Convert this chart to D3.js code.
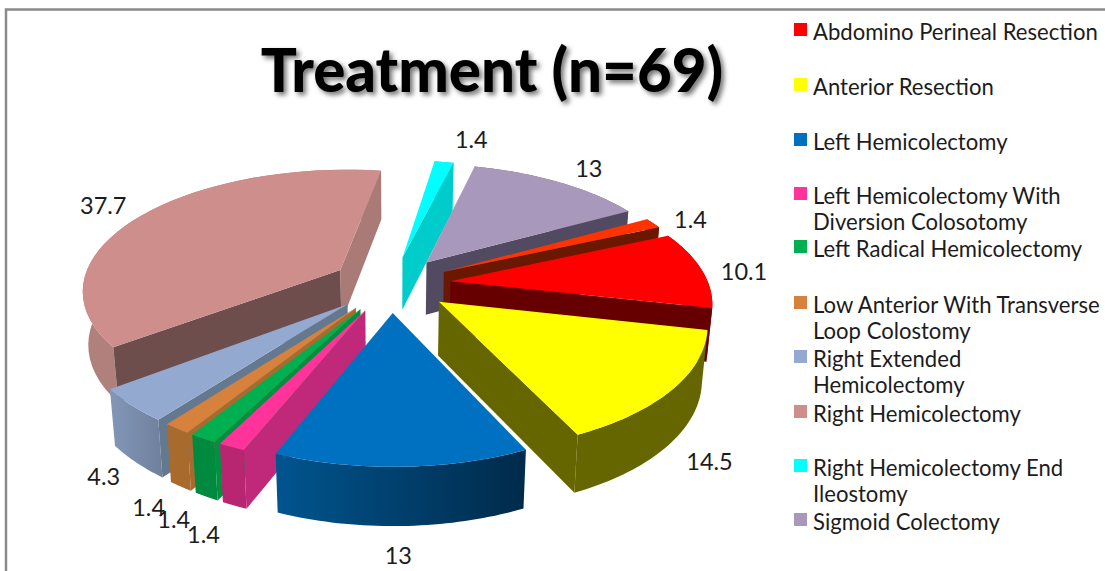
<!DOCTYPE html>
<html>
<head>
<meta charset="utf-8">
<script src="https://cdn.jsdelivr.net/npm/d3@7"></script>
<style>
    html, body { margin: 0; padding: 0; background: #fff; }
    svg { display: block; }
    text { font-family: Lato, sans-serif; fill: #1c1c1c; }
</style>
</head>
<body>
<svg id="chart" width="1105" height="571"></svg>
<script>
    // clockwise from the first slice, the last one has no legend row in the picture
    var categories = ['Abdomino Perineal Resection', 'Anterior Resection', 'Left Hemicolectomy',
        'Left Hemicolectomy With Diversion Colosotomy', 'Left Radical Hemicolectomy',
        'Low Anterior With Transverse Loop Colostomy', 'Right Extended Hemicolectomy',
        'Right Hemicolectomy', 'Right Hemicolectomy End Ileostomy', 'Sigmoid Colectomy', 'Other'];
    var values = [10.1, 14.5, 13, 1.4, 1.4, 1.4, 4.3, 37.7, 1.4, 13, 1.4];

    var legendLines = [['Abdomino Perineal Resection'], ['Anterior Resection'], ['Left Hemicolectomy'],
        ['Left Hemicolectomy With', 'Diversion Colosotomy'], ['Left Radical Hemicolectomy'],
        ['Low Anterior With Transverse', 'Loop Colostomy'], ['Right Extended', 'Hemicolectomy'],
        ['Right Hemicolectomy'], ['Right Hemicolectomy End', 'Ileostomy'], ['Sigmoid Colectomy']];
    var legendRows = [32, 87, 142, 196, 249, 305, 359, 414, 468, 522];

    var topColors = ['#ff0000', '#ffff00', '#0070c0', '#ff3399', '#00b050', '#d6813c', '#93a9cf', '#cd8e8c', '#00ffff', '#a898bb', '#ff3300'];
    var wallLeft = ['#990000', '#666600', '#00558f', '#b82570', '#008a3f', '#a86a2d', '#8297b8', '#b0807c', '#00cccc', '#6a5f78', '#6b1800'];
    var wallRight = ['#990000', '#666600', '#002a4a', '#b82570', '#008a3f', '#a86a2d', '#6f809c', '#b0807c', '#00cccc', '#6a5f78', '#6b1800'];
    var startFace = ['#660000', '#666600', '#00406c', '#c0287a', '#009040', '#a86a2d', '#64788f', '#6e4d4d', '#00cccc', '#524a60', '#6b1800'];
    var endFace = ['#660000', '#666600', '#00406c', '#c0287a', '#009040', '#a86a2d', '#64788f', '#a97a76', '#00cccc', '#524a60', '#6b1800'];

    var svg = d3.select('#chart'),
        cx = 391,
        cy = 284,
        radius = 258,
        explode = 60,
        tilt = 0.4648,
        persp = 0.1916,
        depth = 53,
        shrink = 0.018,
        startDeg = 66;

    var labelNudge = [[13, 4], [5, 61], [-5, 66], [-9, 68], [-7, 63], [-3, 62], [2, 58], [-17, -3], [23, -12], [16, -5], [14, 2]];

    var defs = svg.append('defs');
    var shadow = defs.append('filter').attr('id', 'titleShadow')
        .attr('x', '-5%').attr('y', '-15%').attr('width', '110%').attr('height', '135%');
    shadow.append('feDropShadow')
        .attr('dx', 3).attr('dy', 3).attr('stdDeviation', 2.5)
        .attr('flood-color', '#000').attr('flood-opacity', 0.55);

    // frame of the pasted picture
    svg.append('path')
        .attr('d', d3.line()([[6, 571], [6, 9.5], [1105, 9.5]]))
        .attr('fill', 'none')
        .attr('stroke', '#8a8a8a')
        .attr('stroke-width', 2.5);

    svg.append('text')
        .attr('x', 492)
        .attr('y', 92)
        .attr('text-anchor', 'middle')
        .attr('font-size', 60)
        .attr('font-weight', 900)
        .attr('filter', 'url(#titleShadow)')
        .style('fill', '#000')
        .text('Treatment (n=69)');

    var startAngle = startDeg * Math.PI / 180;
    var pie = d3.pie()
        .sort(null)
        .startAngle(startAngle)
        .endAngle(startAngle + 2 * Math.PI);

    var slices = pie(values).map(function (d, i) {
        d.i = i;
        d.mid = (d.startAngle + d.endAngle) / 2;
        return d;
    });

    function project(u, v, z) {
        var s = 1 / (1 - persp * v / (radius + explode));
        return [cx + u * s * (1 - shrink * z), cy + tilt * v * s + z * depth * (1 + (s - 1) * 0.5)];
    }

    // point at fraction r of the radius on the slice, z = 1 is the bottom of the pie
    function slicePoint(d, angle, r, z) {
        var u = explode * Math.sin(d.mid) + r * radius * Math.sin(angle),
            v = -explode * Math.cos(d.mid) - r * radius * Math.cos(angle);
        return project(u, v, z);
    }

    function rim(d, z) {
        return d3.range(0, 41).map(function (k) {
            return slicePoint(d, d.startAngle + (d.endAngle - d.startAngle) * k / 40, 1, z);
        });
    }

    // a side is hidden when going down from its edge lands on the top face
    function sideVisible(apex, edgeEnd, otherEnd) {
        var ex = edgeEnd[0] - apex[0],
            ey = edgeEnd[1] - apex[1],
            ox = otherEnd[0] - apex[0],
            oy = otherEnd[1] - apex[1];
        return ex * (ex * oy - ey * ox) < 0;
    }

    var line = d3.line();
    var order = slices.slice().sort(function (a, b) {
        return d3.descending(Math.cos(a.mid), Math.cos(b.mid));
    });

    var pieG = svg.append('g').attr('class', 'pie');

    order.forEach(function (d) {
        var i = d.i,
            g = pieG.append('g').attr('class', 'slice'),
            apexTop = slicePoint(d, d.mid, 0, 0),
            apexBottom = slicePoint(d, d.mid, 0, 1),
            rimTop = rim(d, 0),
            rimBottom = rim(d, 1),
            first = rimTop[0],
            last = rimTop[rimTop.length - 1];

        var grad = defs.append('linearGradient').attr('id', 'wall' + i);
        grad.append('stop').attr('offset', '0%').attr('stop-color', wallLeft[i]);
        grad.append('stop').attr('offset', '100%').attr('stop-color', wallRight[i]);

        g.append('path')
            .attr('d', line(rimTop.concat(rimBottom.slice().reverse())) + 'Z')
            .attr('fill', 'url(#wall' + i + ')');

        var sides = [];
        if (sideVisible(apexTop, first, last)) {
            sides.push({ d: [apexTop, first, rimBottom[0], apexBottom], fill: startFace[i] });
        }
        if (sideVisible(apexTop, last, first)) {
            sides.push({ d: [apexTop, last, rimBottom[rimBottom.length - 1], apexBottom], fill: endFace[i] });
        }
        sides.forEach(function (s) {
            g.append('path').attr('d', line(s.d) + 'Z').attr('fill', s.fill);
        });

        g.append('path')
            .attr('d', line([apexTop].concat(rimTop)) + 'Z')
            .attr('fill', topColors[i]);
    });

    svg.append('g').attr('class', 'labels')
        .selectAll('text')
        .data(slices)
        .enter().append('text')
        .attr('text-anchor', 'middle')
        .attr('font-size', 23.5)
        .attr('x', function (d) { return slicePoint(d, d.mid, 1.12, 0)[0] + labelNudge[d.i][0]; })
        .attr('y', function (d) { return slicePoint(d, d.mid, 1.12, 0)[1] + labelNudge[d.i][1]; })
        .attr('dy', '0.35em')
        .text(function (d) { return d.value; });

    var legend = svg.append('g').attr('class', 'legend');
    legendLines.forEach(function (lines, i) {
        legend.append('rect')
            .attr('x', 794)
            .attr('y', legendRows[i] - 9)
            .attr('width', 13)
            .attr('height', 13)
            .attr('fill', topColors[i]);
        lines.forEach(function (txt, k) {
            legend.append('text')
                .attr('x', 813)
                .attr('y', legendRows[i] + k * 26.5)
                .attr('dy', '0.35em')
                .attr('font-size', 22.1)
                .text(txt);
        });
    });
</script>
</body>
</html>
